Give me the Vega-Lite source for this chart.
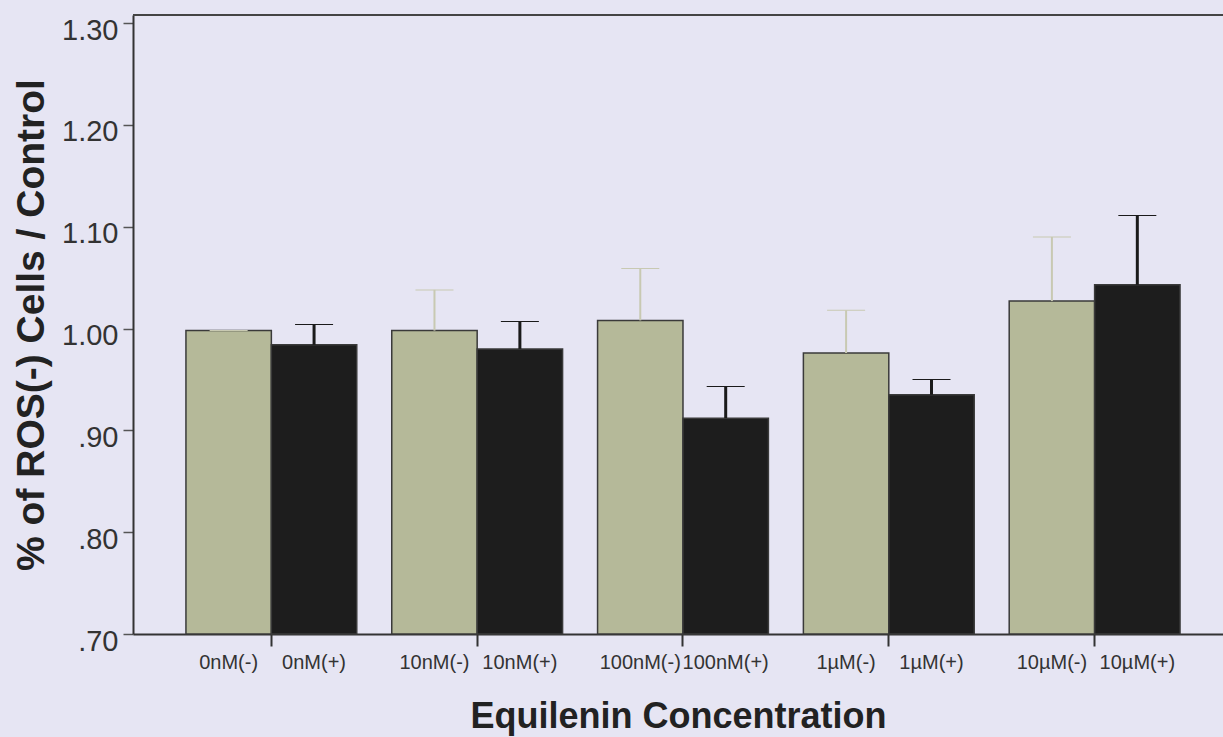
{
  "$schema": "https://vega.github.io/schema/vega-lite/v6.json",
  "width": 1090,
  "height": 619,
  "autosize": {"type": "none"},
  "padding": {"left": 133, "top": 15, "right": 0, "bottom": 103},
  "background": "#e6e5f3",
  "config": {"view": {"stroke": null}, "font": "Liberation Sans"},
  "data": {
    "values": [
      {"group": "0nM", "treatment": "-", "label": "0nM(-)", "value": 0.998, "upper": 0.998},
      {"group": "0nM", "treatment": "+", "label": "0nM(+)", "value": 0.984, "upper": 1.004},
      {"group": "10nM", "treatment": "-", "label": "10nM(-)", "value": 0.998, "upper": 1.038},
      {"group": "10nM", "treatment": "+", "label": "10nM(+)", "value": 0.980, "upper": 1.007},
      {"group": "100nM", "treatment": "-", "label": "100nM(-)", "value": 1.008, "upper": 1.059},
      {"group": "100nM", "treatment": "+", "label": "100nM(+)", "value": 0.912, "upper": 0.943},
      {"group": "1µM", "treatment": "-", "label": "1µM(-)", "value": 0.976, "upper": 1.018},
      {"group": "1µM", "treatment": "+", "label": "1µM(+)", "value": 0.935, "upper": 0.950},
      {"group": "10µM", "treatment": "-", "label": "10µM(-)", "value": 1.027, "upper": 1.090},
      {"group": "10µM", "treatment": "+", "label": "10µM(+)", "value": 1.043, "upper": 1.111}
    ]
  },
  "layer": [
    {
      "mark": {"type": "bar", "stroke": "#3a3a3a", "strokeWidth": 1.5},
      "encoding": {
        "x": {
          "field": "group", "type": "nominal",
          "sort": ["0nM", "10nM", "100nM", "1µM", "10µM"],
          "scale": {"paddingInner": 0.17, "paddingOuter": 0.233, "align": 0.552},
          "axis": {
            "title": "Equilenin Concentration",
            "labels": false,
            "ticks": true, "tickSize": 12, "tickWidth": 2, "tickColor": "#333333",
            "domainColor": "#333333", "domainWidth": 2,
            "titleFontSize": 36, "titleFontWeight": "bold", "titleColor": "#222222",
            "titlePadding": 52
          }
        },
        "xOffset": {"field": "treatment", "type": "nominal", "sort": ["-", "+"], "scale": {"paddingInner": 0, "paddingOuter": 0}},
        "y": {
          "field": "value", "type": "quantitative",
          "scale": {"domain": [0.7, 1.308], "nice": false, "zero": false},
          "axis": {
            "values": [0.7, 0.8, 0.9, 1.0, 1.1, 1.2, 1.3],
            "labelExpr": "datum.value < 1 ? replace(format(datum.value, '.2f'), '0.', '.') : format(datum.value, '.2f')",
            "grid": false,
            "domainColor": "#333333", "domainWidth": 2,
            "tickColor": "#555555", "tickWidth": 1.5, "tickSize": 10,
            "labelFontSize": 29, "labelColor": "#333333", "labelPadding": 5, "labelOffset": 7,
            "title": "% of ROS(-) Cells / Control",
            "titleFontSize": 39, "titleFontWeight": "bold", "titleColor": "#222222",
            "titlePadding": 10
          }
        },
        "y2": {"datum": 0.7},
        "color": {
          "field": "treatment", "type": "nominal",
          "scale": {"domain": ["-", "+"], "range": ["#b5b999", "#1d1d1d"]},
          "legend": null
        }
      }
    },
    {
      "mark": {"type": "rule"},
      "encoding": {
        "x": {"field": "group", "type": "nominal", "sort": ["0nM", "10nM", "100nM", "1µM", "10µM"]},
        "xOffset": {"field": "treatment", "type": "nominal", "sort": ["-", "+"]},
        "y": {"field": "value", "type": "quantitative"},
        "y2": {"field": "upper"},
        "stroke": {"condition": {"test": "datum.treatment == '-'", "value": "#c8c9b2"}, "value": "#1a1a1a"},
        "strokeWidth": {"condition": {"test": "datum.treatment == '-'", "value": 2}, "value": 3}
      }
    },
    {
      "mark": {"type": "tick", "size": 38},
      "encoding": {
        "x": {"field": "group", "type": "nominal", "sort": ["0nM", "10nM", "100nM", "1µM", "10µM"]},
        "xOffset": {"field": "treatment", "type": "nominal", "sort": ["-", "+"]},
        "y": {"field": "upper", "type": "quantitative"},
        "color": {"condition": {"test": "datum.treatment == '-'", "value": "#c8c9b2"}, "value": "#1a1a1a"},
        "opacity": {"value": 1},
        "strokeWidth": {"value": 0}
      }
    },
    {
      "mark": {"type": "text", "baseline": "top", "dy": 19, "fontSize": 20, "color": "#333333"},
      "encoding": {
        "x": {"field": "group", "type": "nominal", "sort": ["0nM", "10nM", "100nM", "1µM", "10µM"]},
        "xOffset": {"field": "treatment", "type": "nominal", "sort": ["-", "+"]},
        "y": {"datum": 0.7},
        "text": {"field": "label"}
      }
    },
    {
      "data": {"values": [{"edge": "top"}]},
      "mark": {"type": "rule", "color": "#444444", "strokeWidth": 2},
      "encoding": {"y": {"datum": 1.308}}
    }
  ]
}
